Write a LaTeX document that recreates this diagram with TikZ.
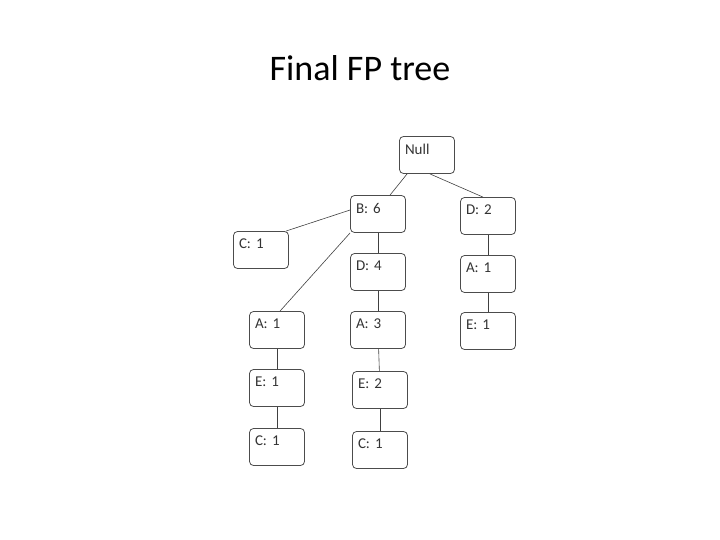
\documentclass[tikz,border=0pt]{standalone}
\usepackage{fontspec}
\setmainfont{Carlito}
\usetikzlibrary{positioning}

\begin{document}
\begin{tikzpicture}[x=1pt,y=-1pt]
      \useasboundingbox (0,0) rectangle (720,540);
      \node (title) at (360,68) {\fontsize{36}{42}\selectfont Final FP tree};
      \begin{scope}[every node/.style={draw=gray!60!black,rounded corners=4pt,thick,
          minimum width=55pt,minimum height=37pt,inner sep=3pt,
          text width=44pt,align=left,text depth=12pt,
          font=\fontsize{15}{17}\selectfont,text=black!80}]
        \node (null) at (427,155) {Null};
        \node (b6) at (378,214) {B: 6};
        \node (d2) at (488,216) {D: 2};
        \node (c1a) at (261,250) {C: 1};
        \node (d4) at (378,272) {D: 4};
        \node (a1r) at (488,274) {A: 1};
        \node (a1l) at (277,330) {A: 1};
        \node (a3) at (378,330) {A: 3};
        \node (e1r) at (488,331) {E: 1};
        \node (e1l) at (277,388) {E: 1};
        \node (e2) at (380,390) {E: 2};
        \node (c1b) at (277,447) {C: 1};
        \node (c1c) at (380,450) {C: 1};
      \end{scope}
      \begin{scope}[every path/.style={draw=gray!50!black,semithick}]
        \path (null.south west) ++(8,0) coordinate (n1);
        \draw (n1) -- ([xshift=12pt]b6.north);
        \draw ([xshift=-25pt]null.south east) -- ([xshift=-5pt]d2.north);
        \draw ([yshift=4pt]b6.west) -- ([xshift=-3pt]c1a.north east);
        \draw (b6.south west) -- ([xshift=3pt]a1l.north);
        \draw (b6) -- (d4);
        \draw (d4) -- (a3);
        \draw (a3) -- (e2);
        \draw (e2) -- (c1c);
        \draw (a1l) -- (e1l);
        \draw (e1l) -- (c1b);
        \draw (d2) -- (a1r);
        \draw (a1r) -- (e1r);
      \end{scope}
    \end{tikzpicture}
\end{document}
